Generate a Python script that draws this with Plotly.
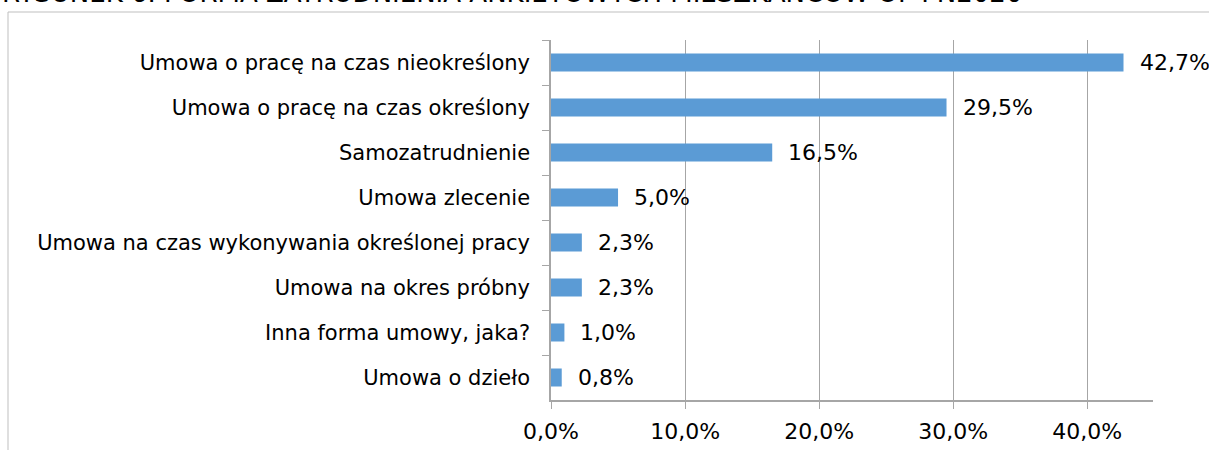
import plotly.graph_objects as go

# forma zatrudnienia - dane z wykresu
categories = [
    "Umowa o pracę na czas nieokreślony",
    "Umowa o pracę na czas określony",
    "Samozatrudnienie",
    "Umowa zlecenie",
    "Umowa na czas wykonywania określonej pracy",
    "Umowa na okres próbny",
    "Inna forma umowy, jaka?",
    "Umowa o dzieło",
]
shares = [0.427, 0.295, 0.165, 0.050, 0.023, 0.023, 0.010, 0.008]
x_ticks = [0, 0.1, 0.2, 0.3, 0.4]

FONT = "DejaVu Sans"
GRID = "#a6a6a6"

fig = go.Figure(
    go.Bar(
        x=shares,
        y=categories,
        orientation="h",
        width=0.4,
        marker=dict(color="#5b9bd5", line=dict(width=0)),
        hoverinfo="skip",
    )
)

# etykiety danych po prawej stronie słupków
for cat, val in zip(categories, shares):
    fig.add_annotation(
        x=val, y=cat, xref="x", yref="y",
        text=f"{val * 100:.1f}%".replace(".", ","),
        showarrow=False, xanchor="left", xshift=14,
        font=dict(family=FONT, size=22, color="#000000"),
    )

# tytuł (ucięty u góry, jak w oryginale)
fig.add_annotation(
    text="RYSUNEK 6. FORMA ZATRUDNIENIA ANKIETOWYCH MIESZKAŃCÓW OF PN2020",
    xref="paper", yref="paper", x=-551 / 602, y=(400 - 10) / 360,
    xanchor="left", yanchor="bottom", showarrow=False,
    font=dict(family=FONT, size=26, color="#000000"),
)

# ramka wykresu
fig.add_shape(
    type="rect", xref="paper", yref="paper",
    x0=(8 - 551) / 602, x1=(1230 - 551) / 602,
    y0=-0.3, y1=(400 - 12) / 360,
    line=dict(color="#bfbfbf", width=1), layer="below",
)

fig.update_layout(
    width=1209, height=450,
    margin=dict(l=551, r=56, t=40, b=50),
    paper_bgcolor="white", plot_bgcolor="white",
    separators=", ",
    showlegend=False,
    font=dict(family=FONT, size=21, color="#000000"),
    xaxis=dict(
        range=[0, 0.449], tickvals=x_ticks, tickformat=".1%",
        tickfont=dict(size=22), automargin=False,
        showgrid=True, gridcolor=GRID, gridwidth=1,
        showline=True, linecolor=GRID, linewidth=1.5,
        ticks="outside", ticklen=7, tickcolor=GRID,
        ticklabelstandoff=4, zeroline=False,
    ),
    yaxis=dict(
        autorange="reversed", showgrid=False, automargin=False,
        showline=True, linecolor=GRID, linewidth=1.5,
        ticks="outside", ticklen=7, tickcolor=GRID,
        tickson="boundaries", ticklabelstandoff=15,
    ),
)

# bez marginesu strony, żeby wykres zaczynał się w lewym górnym rogu
fig.write_html(
    "out.html",
    config={"displayModeBar": False},
    post_script="document.body.style.margin='0';",
)
